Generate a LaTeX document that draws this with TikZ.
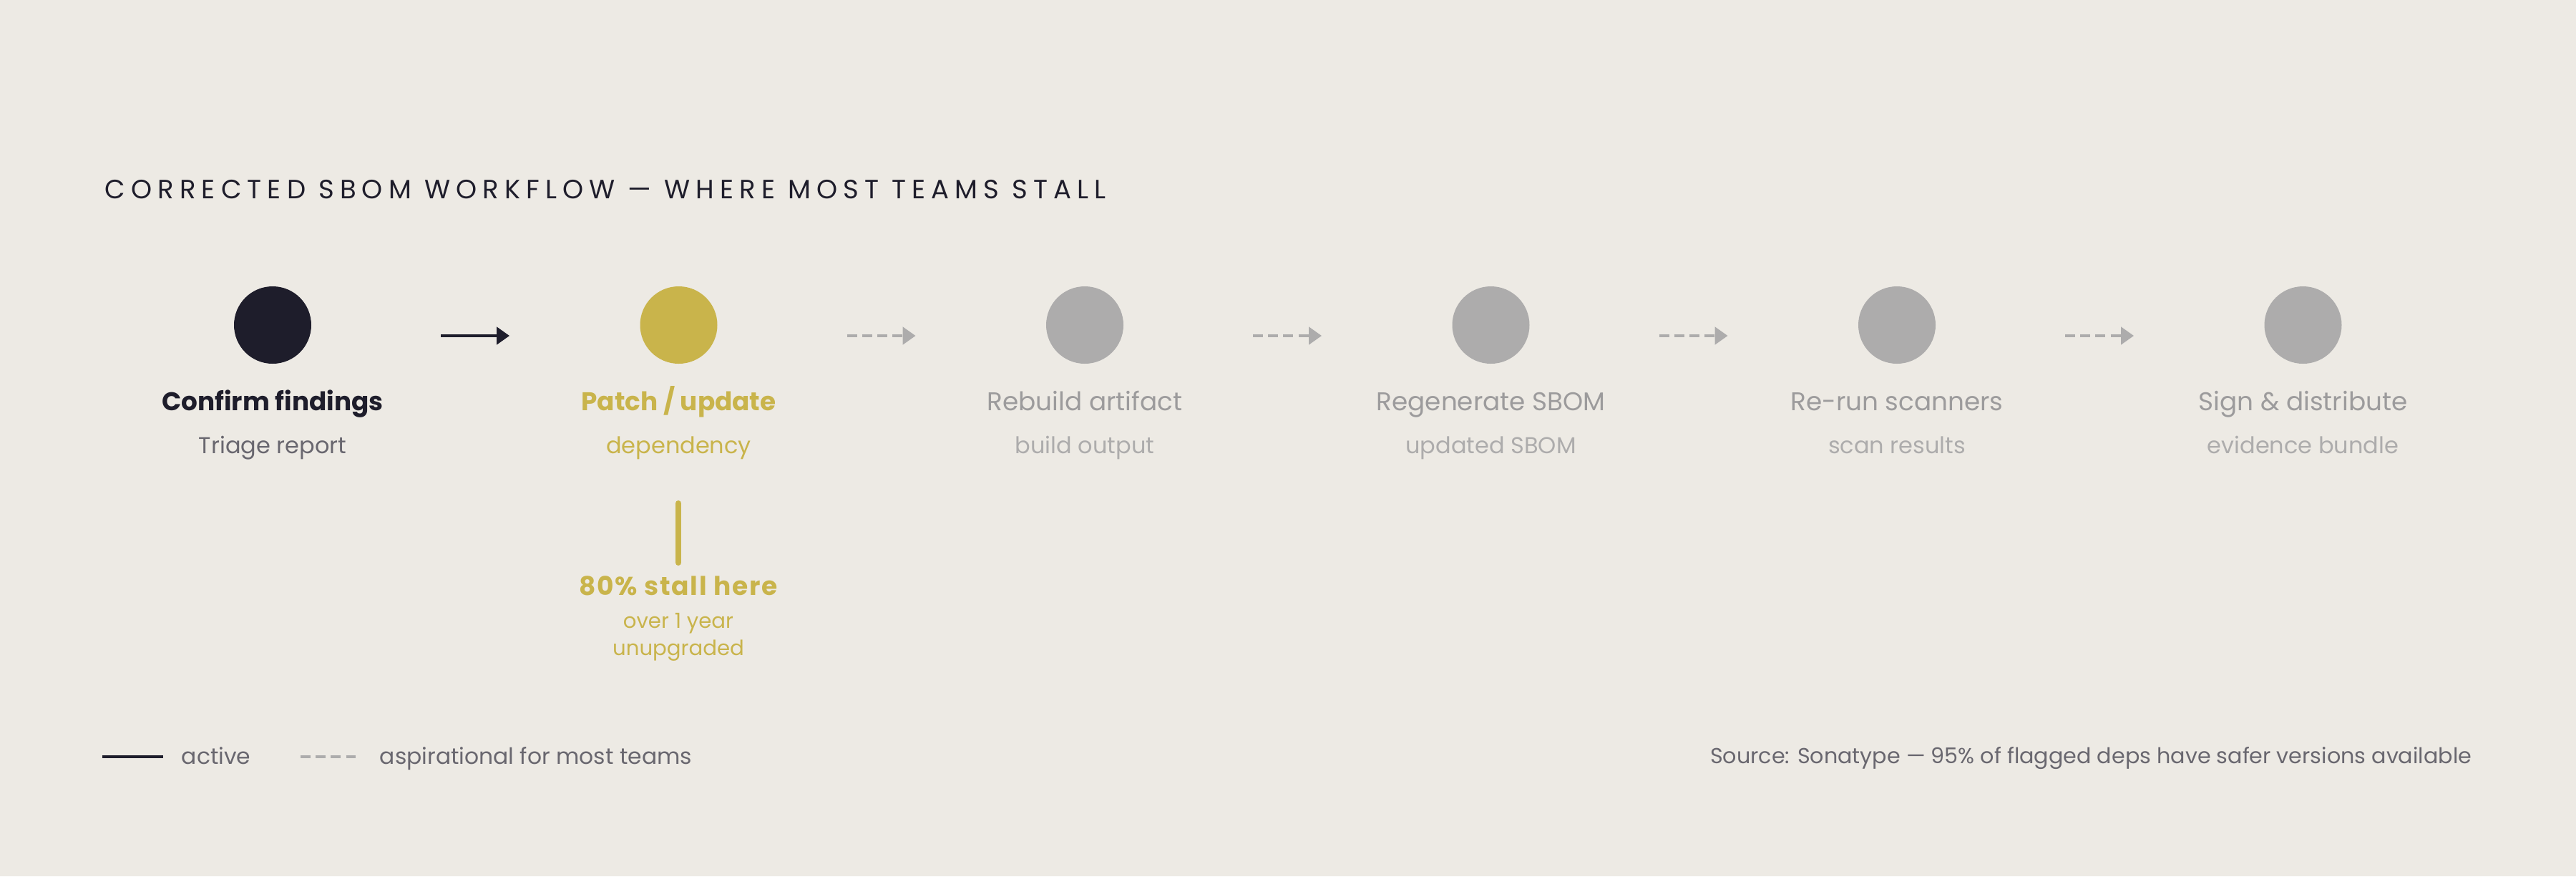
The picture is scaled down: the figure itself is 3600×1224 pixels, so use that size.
\documentclass[tikz,border=0pt]{standalone}
\usepackage{fontspec}
\setmainfont{Poppins}
\usetikzlibrary{arrows.meta}
\definecolor{bg}{HTML}{EDEAE4}
\definecolor{ink}{HTML}{1E1D2B}
\definecolor{gold}{HTML}{C9B44B}
\definecolor{mute}{HTML}{ADACAC}
\definecolor{mutetxt}{HTML}{9C9B9C}
\definecolor{subtxt}{HTML}{ADACAC}
\definecolor{greytxt}{HTML}{69676F}
\newcommand{\fs}[1]{\fontsize{#1pt}{#1pt}\selectfont}
\tikzset{
  x=0.25pt, y=-0.25pt,
  dot/.style={circle, minimum size=108*0.25pt, inner sep=0pt, fill=#1},
  lbl/.style={anchor=base, inner sep=0pt, font=\fs{8.95}\bfseries, text=#1},
  mlbl/.style={anchor=base, inner sep=0pt, font=\fs{8.95}, text=mutetxt},
  sublbl/.style={anchor=base, inner sep=0pt, font=\fs{8.0}, text=#1},
  solidarrow/.style={draw=ink, line width=1.2pt, -{Triangle[length=4.5pt,width=6pt]}},
  dasharrow/.style={draw=mute, line width=1.2pt, dash pattern=on 3.5pt off 1.8pt, -{Triangle[length=4.5pt,width=6pt]}},
  txt/.style={inner sep=0pt, font=\fs{7.85}, text=greytxt},
  link/.style={shorten <=58.75pt, shorten >=59.1pt},
}
\begin{document}
\begin{tikzpicture}
\fill[bg] (0,0) rectangle (3600,1224);
\useasboundingbox (0,0) rectangle (3600,1224);

\node[anchor=base west, inner sep=0pt, text=ink, font=\fs{9.25}\addfontfeature{LetterSpace=22}] (title) at (146,277) {CORRECTED SBOM WORKFLOW — WHERE MOST TEAMS STALL};

% circles
\node[dot=ink]  (c1) at (381,454) {};
\node[dot=gold] (c2) at (948.5,454) {};
\node[dot=mute] (c3) at (1516,454) {};
\node[dot=mute] (c4) at (2083.5,454) {};
\node[dot=mute] (c5) at (2651,454) {};
\node[dot=mute] (c6) at (3218.5,454) {};

% connectors
\draw[solidarrow, link] ([yshift=-3.75pt]c1.center) -- ([yshift=-3.75pt]c2.center);
\draw[dasharrow, link] ([yshift=-3.75pt]c2.center) -- ([yshift=-3.75pt]c3.center);
\draw[dasharrow, link] ([yshift=-3.75pt]c3.center) -- ([yshift=-3.75pt]c4.center);
\draw[dasharrow, link] ([yshift=-3.75pt]c4.center) -- ([yshift=-3.75pt]c5.center);
\draw[dasharrow, link] ([yshift=-3.75pt]c5.center) -- ([yshift=-3.75pt]c6.center);

% labels
\node[lbl=ink]  (l1) at (381,573) {Confirm findings};
\node[sublbl=greytxt] (s1) at (381,633) {Triage report};
\node[lbl=gold] (l2) at (948.5,573) {Patch / update};
\node[sublbl=gold] (s2) at (948.5,633) {dependency};
\node[mlbl] (l3) at (1516,573) {Rebuild artifact};
\node[sublbl=subtxt] (s3) at (1516,633) {build output};
\node[mlbl] (l4) at (2083.5,573) {Regenerate SBOM};
\node[sublbl=subtxt] (s4) at (2083.5,633) {updated SBOM};
\node[mlbl] (l5) at (2651,573) {Re-run scanners};
\node[sublbl=subtxt] (s5) at (2651,633) {scan results};
\node[mlbl] (l6) at (3218.5,573) {Sign \& distribute};
\node[sublbl=subtxt] (s6) at (3218.5,633) {evidence bundle};

% stall annotation
\coordinate (bt) at (948,703);
\coordinate (bb) at (948,786);
\draw[gold, line width=2pt, line cap=round] (bt) -- (bb);
\node[anchor=base, inner sep=0pt, text=gold, font=\fs{9}\bfseries\addfontfeature{LetterSpace=5}] (stall) at (948,831) {80\% stall here};
\node[anchor=base, inner sep=0pt, text=gold, font=\fs{7.3}] (over) at (948,877) {over 1 year};
\node[anchor=base, inner sep=0pt, text=gold, font=\fs{7.3}] (unup) at (948,915) {unupgraded};

% legend
\coordinate (la) at (143,1057);
\coordinate (lb) at (228,1057);
\draw[ink, line width=1.2pt] (la) -- (lb);
\node[txt, anchor=base west] (lact) at (253,1067) {active};
\coordinate (lc) at (420,1057);
\coordinate (ld) at (497,1057);
\draw[mute, line width=1.2pt, dash pattern=on 3.5pt off 1.8pt] (lc) -- (ld);
\node[txt, anchor=base west] (lasp) at (530,1067) {aspirational for most teams};

\node[txt, anchor=base east, font=\fs{7.55}] (src) at (3455,1066) {Source: Sonatype — 95\% of flagged deps have safer versions available};
\end{tikzpicture}
\end{document}
